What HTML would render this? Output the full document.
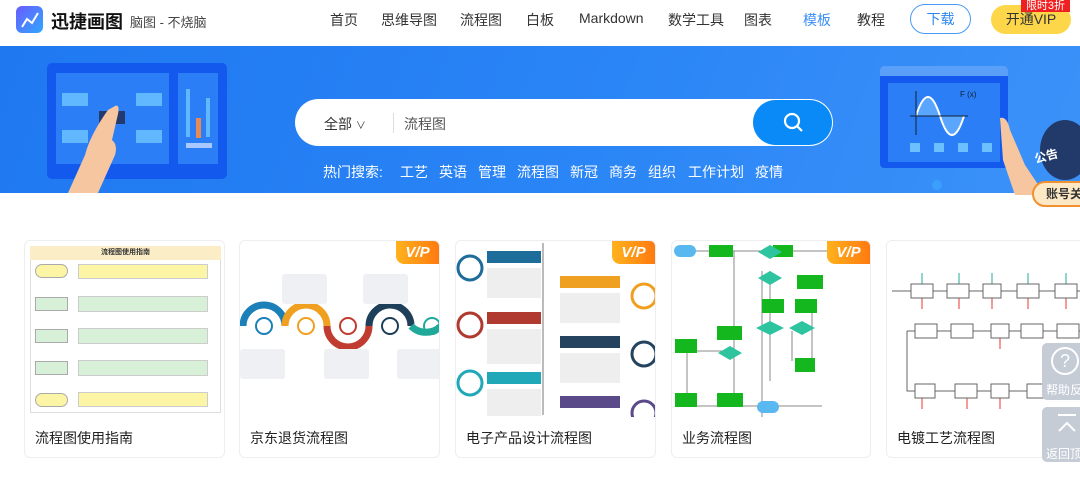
<!DOCTYPE html>
<html><head><meta charset="utf-8"><style>
*{margin:0;padding:0;box-sizing:border-box}
body{width:1080px;height:482px;overflow:hidden;background:#fff;font-family:"Liberation Sans","Noto Sans CJK SC",sans-serif;position:relative;color:#333}
.a{position:absolute;white-space:nowrap}
.nav{top:10px;font-size:14px;color:#333}
.hot{top:162px;font-size:14px;color:#fff}
.card{position:absolute;top:240px;height:218px;border:1px solid #eceef2;border-radius:6px;background:#fff;overflow:hidden}
.card .t{position:absolute;left:10px;top:187px;font-size:14px;color:#222}
.vip{position:absolute;right:0;top:0;width:43px;height:23px;background:linear-gradient(90deg,#ffb21d,#ff7a10);border-bottom-left-radius:8px;color:#fff;font-weight:bold;font-style:italic;font-size:15px;text-align:center;line-height:23px}
.bx{position:absolute}
</style></head><body>
<!-- header -->
<div class="a" style="left:16px;top:6px;width:27px;height:27px;border-radius:6px;background:linear-gradient(135deg,#6a5cff,#2fa7ff)"></div>
<svg class="a" style="left:16px;top:6px" width="27" height="27"><polyline points="6,21 11,13 16,17 22,7" fill="none" stroke="#fff" stroke-width="2"/></svg>
<div class="a" style="left:51px;top:8px;font-size:18px;font-weight:bold;color:#111">迅捷画图</div>
<div class="a" style="left:130px;top:12px;font-size:13px;color:#444">脑图 - 不烧脑</div>
<div class="a nav" style="left:330px">首页</div>
<div class="a nav" style="left:381px">思维导图</div>
<div class="a nav" style="left:460px">流程图</div>
<div class="a nav" style="left:526px">白板</div>
<div class="a nav" style="left:579px">Markdown</div>
<div class="a nav" style="left:668px">数学工具</div>
<div class="a nav" style="left:744px">图表</div>
<div class="a nav" style="left:803px;color:#3b8ff5">模板</div>
<div class="a nav" style="left:857px">教程</div>
<div class="a" style="left:910px;top:4px;width:61px;height:30px;border:1px solid #4a9af5;border-radius:15px;color:#2c86f0;font-size:14px;text-align:center;line-height:28px">下载</div>
<div class="a" style="left:991px;top:5px;width:80px;height:29px;background:#fdd64a;border-radius:15px;color:#333;font-size:14px;text-align:center;line-height:29px">开通VIP</div>
<div class="a" style="left:1021px;top:0;width:49px;height:12px;background:#f02020;color:#fff;font-size:11px;line-height:12px;text-align:center">限时3折</div>
<!-- banner -->
<div class="a" style="left:0;top:46px;width:1080px;height:147px;background:linear-gradient(110deg,#1f78f0 0%,#2a85f6 55%,#3b92f8 100%)"></div>
<div class="a" style="left:47px;top:63px;width:180px;height:116px;background:#1459ee;border-radius:5px"></div>
<div class="a" style="left:56px;top:73px;width:113px;height:91px;background:#2b7ef5"></div>
<div class="a" style="left:178px;top:73px;width:40px;height:91px;background:#2b7ef5"></div>
<div class="a" style="left:62px;top:93px;width:26px;height:13px;background:#62b8ff"></div>
<div class="a" style="left:62px;top:130px;width:26px;height:13px;background:#62b8ff"></div>
<div class="a" style="left:136px;top:93px;width:26px;height:13px;background:#62b8ff"></div>
<div class="a" style="left:136px;top:130px;width:26px;height:13px;background:#62b8ff"></div>
<div class="a" style="left:99px;top:111px;width:26px;height:13px;background:#243a6e"></div>
<div class="a" style="left:186px;top:89px;width:4px;height:48px;background:#62b8ff"></div>
<div class="a" style="left:196px;top:118px;width:5px;height:20px;background:#e88a55"></div>
<div class="a" style="left:206px;top:98px;width:4px;height:39px;background:#62b8ff"></div>
<div class="a" style="left:186px;top:143px;width:26px;height:5px;background:#a8c8ff"></div>
<svg class="a" style="left:60px;top:100px" width="70" height="93"><path d="M55 6 Q60 4 58 14 L52 40 Q58 45 55 55 L38 93 L8 93 L25 55 Q30 35 48 10 Z" fill="#f5c6a0"/></svg>
<div class="a" style="left:295px;top:99px;width:538px;height:47px;background:#fff;border-radius:24px"></div>
<div class="a" style="left:324px;top:114px;font-size:14px;color:#333">全部 <span style="font-size:10px">∨</span></div>
<div class="a" style="left:393px;top:113px;width:1px;height:20px;background:#ddd"></div>
<div class="a" style="left:404px;top:114px;font-size:14px;color:#555">流程图</div>
<div class="a" style="left:753px;top:100px;width:79px;height:45px;background:#0a8af6;border-radius:23px"></div>
<svg class="a" style="left:782px;top:111px" width="24" height="24"><circle cx="10" cy="10" r="7" fill="none" stroke="#fff" stroke-width="2.2"/><line x1="15" y1="15" x2="20" y2="20" stroke="#fff" stroke-width="2.2"/></svg>
<div class="a hot" style="left:323px">热门搜索:</div>
<div class="a hot" style="left:400px">工艺</div>
<div class="a hot" style="left:439px">英语</div>
<div class="a hot" style="left:478px">管理</div>
<div class="a hot" style="left:517px">流程图</div>
<div class="a hot" style="left:570px">新冠</div>
<div class="a hot" style="left:609px">商务</div>
<div class="a hot" style="left:648px">组织</div>
<div class="a hot" style="left:688px">工作计划</div>
<div class="a hot" style="left:755px">疫情</div>
<div class="a" style="left:880px;top:66px;width:128px;height:102px;background:#1459ee;border-radius:4px"></div>
<div class="a" style="left:880px;top:66px;width:128px;height:10px;background:#5a9ff8;border-radius:4px 4px 0 0"></div>
<div class="a" style="left:888px;top:83px;width:112px;height:79px;background:#2b7ef5"></div>
<svg class="a" style="left:888px;top:83px" width="112" height="79"><path d="M28 33 Q40 -5 52 33 T76 33" fill="#5aa6ff" stroke="#fff" stroke-width="2"/><line x1="22" y1="33" x2="80" y2="33" stroke="#123" /><line x1="28" y1="8" x2="28" y2="52" stroke="#123"/><text x="72" y="14" font-size="8" fill="#123">F (x)</text><g fill="#6cc0ff"><rect x="22" y="60" width="10" height="9"/><rect x="46" y="60" width="10" height="9"/><rect x="70" y="60" width="10" height="9"/><rect x="94" y="60" width="10" height="9"/></g></svg>
<div class="a" style="left:932px;top:180px;width:10px;height:10px;border-radius:5px;background:#3aa0fb"></div>
<svg class="a" style="left:985px;top:110px" width="95" height="85"><path d="M15 8 Q22 6 25 20 L40 55 L60 85 L30 85 L18 50 Z" fill="#f5c6a0"/><ellipse cx="80" cy="40" rx="25" ry="30" fill="#223a6a"/><text x="50" y="52" font-size="12" fill="#fff" font-weight="bold" transform="rotate(-15 55 50)">公告</text></svg>
<div class="a" style="left:1032px;top:181px;width:60px;height:26px;background:#fde8c6;border:2px solid #f09030;border-radius:13px;font-size:12px;font-weight:bold;padding-left:12px;line-height:22px">账号关</div>
<!-- cards -->
<div class="card" style="left:24px;width:201px">
<div class="bx" style="left:5px;top:5px;width:191px;height:167px;border:1px solid #ddd"></div>
<div class="bx" style="left:5px;top:5px;width:191px;height:14px;background:#fbeec7;font-size:7px;font-weight:bold;text-align:center;line-height:14px">流程图使用指南</div>
<div class="bx" style="left:10px;top:23px;width:33px;height:14px;background:#fdf5a6;border:1px solid #aaa;border-radius:7px"></div>
<div class="bx" style="left:10px;top:56px;width:33px;height:14px;background:#d8f0d8;border:1px solid #aaa"></div>
<div class="bx" style="left:10px;top:88px;width:33px;height:14px;background:#d8f0d8;border:1px solid #aaa"></div>
<div class="bx" style="left:10px;top:120px;width:33px;height:14px;background:#d8f0d8;border:1px solid #aaa"></div>
<div class="bx" style="left:10px;top:152px;width:33px;height:14px;background:#fdf5a6;border:1px solid #aaa;border-radius:7px"></div>
<div class="bx" style="left:53px;top:23px;width:130px;height:15px;background:#fdf5a6;border:1px solid #ccc"></div>
<div class="bx" style="left:53px;top:55px;width:130px;height:16px;background:#d8f0d8;border:1px solid #ccc"></div>
<div class="bx" style="left:53px;top:87px;width:130px;height:16px;background:#d8f0d8;border:1px solid #ccc"></div>
<div class="bx" style="left:53px;top:119px;width:130px;height:16px;background:#d8f0d8;border:1px solid #ccc"></div>
<div class="bx" style="left:53px;top:151px;width:130px;height:15px;background:#fdf5a6;border:1px solid #ccc"></div>
<div class="t">流程图使用指南</div></div>
<div class="card" style="left:239px;width:201px">
<svg class="bx" style="left:0;top:30px" width="201" height="130"><g fill="none" stroke-width="7"><path d="M3 55 A21 21 0 0 1 45 55" stroke="#1b7fb8"/><path d="M45 55 A21 21 0 0 0 87 55" stroke="#f0a020" transform="scale(1,-1) translate(0,-110)"/><path d="M87 55 A21 21 0 0 0 129 55" stroke="#c03c30"/><path d="M129 55 A21 21 0 0 1 171 55" stroke="#1e3f5a"/><path d="M171 55 A21 21 0 0 0 201 55" stroke="#20a898"/></g><g fill="none" stroke-width="2"><circle cx="24" cy="55" r="8" stroke="#1b7fb8"/><circle cx="66" cy="55" r="8" stroke="#f0a020"/><circle cx="108" cy="55" r="8" stroke="#c03c30"/><circle cx="150" cy="55" r="8" stroke="#1e3f5a"/><circle cx="192" cy="55" r="8" stroke="#20a898"/></g><g fill="#eef0f4"><rect x="42" y="3" width="45" height="30" rx="3"/><rect x="123" y="3" width="45" height="30" rx="3"/><rect x="0" y="78" width="45" height="30" rx="3"/><rect x="84" y="78" width="45" height="30" rx="3"/><rect x="157" y="78" width="44" height="30" rx="3"/></g></svg>
<div class="vip">V/P</div><div class="t">京东退货流程图</div></div>
<div class="card" style="left:455px;width:201px">
<div class="bx" style="left:86px;top:2px;width:2px;height:172px;background:#bbb"></div>
<div class="bx" style="left:31px;top:10px;width:54px;height:12px;background:#1d6c9a"></div>
<div class="bx" style="left:31px;top:27px;width:54px;height:30px;background:#eee"></div>
<div class="bx" style="left:104px;top:35px;width:60px;height:12px;background:#f0a020"></div>
<div class="bx" style="left:104px;top:52px;width:60px;height:30px;background:#eee"></div>
<div class="bx" style="left:31px;top:71px;width:54px;height:12px;background:#b03a30"></div>
<div class="bx" style="left:31px;top:88px;width:54px;height:35px;background:#eee"></div>
<div class="bx" style="left:104px;top:95px;width:60px;height:12px;background:#25435e"></div>
<div class="bx" style="left:104px;top:112px;width:60px;height:30px;background:#eee"></div>
<div class="bx" style="left:31px;top:131px;width:54px;height:12px;background:#20a8b8"></div>
<div class="bx" style="left:31px;top:148px;width:54px;height:27px;background:#eee"></div>
<div class="bx" style="left:104px;top:155px;width:60px;height:12px;background:#5a4a8a"></div>
<svg class="bx" style="left:0;top:0" width="201" height="176"><g fill="#fff" stroke-width="3"><circle cx="14" cy="27" r="12" stroke="#1d6c9a"/><circle cx="188" cy="55" r="12" stroke="#f0a020"/><circle cx="14" cy="84" r="12" stroke="#b03a30"/><circle cx="188" cy="113" r="12" stroke="#25435e"/><circle cx="14" cy="142" r="12" stroke="#20a8b8"/><circle cx="188" cy="172" r="12" stroke="#5a4a8a"/></g></svg>
<div class="vip">V/P</div><div class="t">电子产品设计流程图</div></div>
<div class="card" style="left:671px;width:200px">
<svg class="bx" style="left:0;top:0" width="200" height="176"><g stroke="#888" fill="none"><path d="M20 10 H180 M62 10 V165 M90 30 V180 M98 30 V140 M15 110 H60 M15 110 V165 H150 M140 60 V120 M120 90 V120"/></g><g fill="#14b81e"><rect x="37" y="4" width="24" height="12"/><rect x="101" y="4" width="20" height="12"/><rect x="125" y="34" width="26" height="14"/><rect x="90" y="58" width="22" height="14"/><rect x="123" y="58" width="22" height="14"/><rect x="3" y="98" width="22" height="14"/><rect x="3" y="152" width="22" height="14"/><rect x="45" y="152" width="26" height="14"/><rect x="123" y="117" width="20" height="14"/></g><rect x="45" y="85" width="25" height="14" fill="#14b81e"/><g fill="#2ec4a0"><polygon points="98,4 110,11 98,18 86,11"/><polygon points="98,30 110,37 98,44 86,37"/><polygon points="98,80 112,87 98,94 84,87"/><polygon points="130,80 143,87 130,94 117,87"/><polygon points="58,105 70,112 58,119 46,112"/></g><rect x="2" y="4" width="22" height="12" rx="6" fill="#5ab8f0"/><rect x="85" y="160" width="22" height="12" rx="6" fill="#5ab8f0"/></svg>
<div class="vip">V/P</div><div class="t">业务流程图</div></div>
<div class="card" style="left:886px;width:200px">
<svg class="bx" style="left:0;top:10px" width="200" height="160"><g stroke="#666" fill="none"><path d="M5 40 H200 M20 80 H200 M20 80 V140 H200"/></g><g stroke="#2a9" ><path d="M35 22 V33 M72 22 V33 M105 22 V33 M141 22 V33 M179 22 V33"/></g><g stroke="#e33"><path d="M35 47 V58 M72 47 V58 M105 47 V58 M141 47 V58 M179 47 V58 M113 87 V98 M35 147 V158 M80 147 V158 M113 147 V158"/></g><g fill="#fff" stroke="#666"><rect x="24" y="33" width="22" height="14"/><rect x="60" y="33" width="22" height="14"/><rect x="96" y="33" width="18" height="14"/><rect x="130" y="33" width="22" height="14"/><rect x="168" y="33" width="22" height="14"/><rect x="28" y="73" width="22" height="14"/><rect x="64" y="73" width="22" height="14"/><rect x="104" y="73" width="18" height="14"/><rect x="134" y="73" width="22" height="14"/><rect x="170" y="73" width="22" height="14"/><rect x="28" y="133" width="20" height="14"/><rect x="68" y="133" width="22" height="14"/><rect x="104" y="133" width="18" height="14"/><rect x="140" y="133" width="18" height="14"/></g></svg>
<div class="t">电镀工艺流程图</div></div>
<!-- side buttons -->
<div class="a" style="left:1042px;top:343px;width:45px;height:57px;background:#c5ccd6;border-radius:5px"></div>
<div class="a" style="left:1051px;top:347px;width:28px;height:28px;border:2px solid #fff;border-radius:50%;color:#fff;font-size:18px;text-align:center;line-height:24px">?</div>
<div class="a" style="left:1046px;top:381px;font-size:12px;color:#fff">帮助反</div>
<div class="a" style="left:1042px;top:407px;width:45px;height:55px;background:#c5ccd6;border-radius:5px"></div>
<svg class="a" style="left:1055px;top:413px" width="24" height="24"><path d="M3 2 H21 M4 18 L12 10 L20 18" stroke="#fff" stroke-width="2" fill="none"/></svg>
<div class="a" style="left:1046px;top:445px;font-size:12px;color:#fff">返回顶</div>
</body></html>
